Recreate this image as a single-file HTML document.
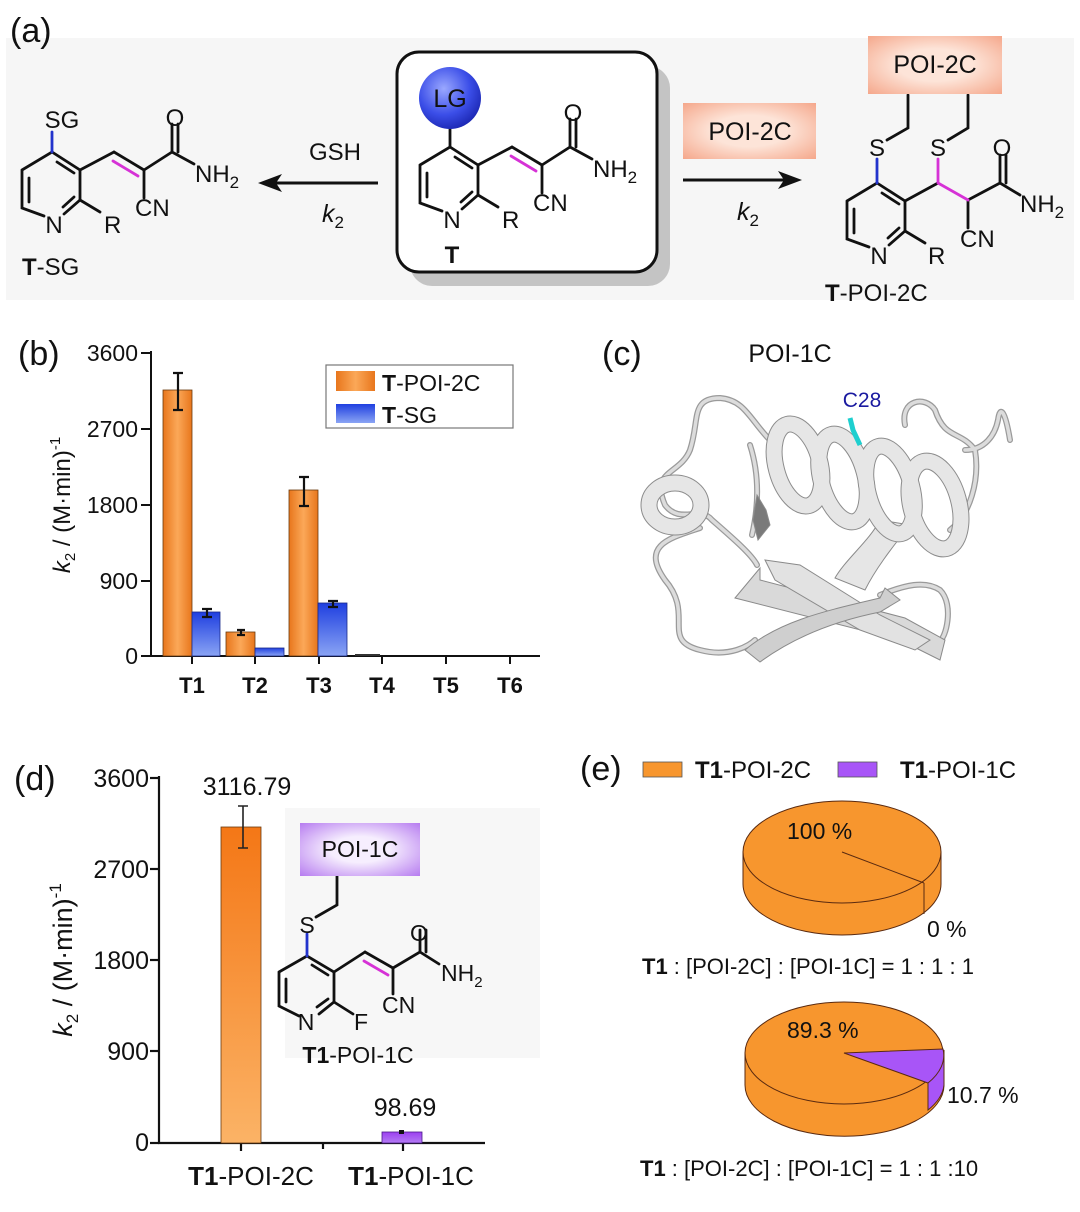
<!DOCTYPE html>
<html><head><meta charset="utf-8"><style>
html,body{margin:0;padding:0;background:#fff}
svg{display:block}
text{font-family:"Liberation Sans",Arial,sans-serif;fill:#111}
</style></head><body>
<svg width="1080" height="1212" viewBox="0 0 1080 1212" xmlns="http://www.w3.org/2000/svg">
<defs>
<radialGradient id="lg" cx="0.4" cy="0.35" r="0.7"><stop offset="0" stop-color="#9aa8ff"/><stop offset="0.6" stop-color="#3b4ee8"/><stop offset="1" stop-color="#1a25b0"/></radialGradient>
<radialGradient id="poi" cx="0.5" cy="0.5" r="0.7"><stop offset="0.4" stop-color="#fde4d8"/><stop offset="1" stop-color="#f5a88c"/></radialGradient>
<radialGradient id="poi1" cx="0.5" cy="0.5" r="0.7"><stop offset="0.35" stop-color="#f6eefe"/><stop offset="1" stop-color="#b77df0"/></radialGradient>
<linearGradient id="ob" x1="0" x2="1" y1="0" y2="0"><stop offset="0" stop-color="#e8761c"/><stop offset="0.5" stop-color="#fba858"/><stop offset="1" stop-color="#e8761c"/></linearGradient>
<linearGradient id="bb" x1="0" x2="0" y1="0" y2="1"><stop offset="0" stop-color="#1f3fe0"/><stop offset="1" stop-color="#8aa4f4"/></linearGradient>
<linearGradient id="od" x1="0" x2="0" y1="0" y2="1"><stop offset="0" stop-color="#f47716"/><stop offset="1" stop-color="#fbb366"/></linearGradient>
<linearGradient id="pd" x1="0" x2="0" y1="0" y2="1"><stop offset="0" stop-color="#9c3ff0"/><stop offset="1" stop-color="#b47bf4"/></linearGradient>
</defs>

<!-- panel a background -->
<rect x="6" y="38" width="1068" height="262" fill="#f6f6f6"/>
<text x="10" y="42" font-size="34">(a)</text>

<!-- center box -->
<rect x="410" y="66" width="260" height="220" rx="22" fill="#c4c4c4"/>
<rect x="397" y="52" width="260" height="220" rx="22" fill="#fff" stroke="#111" stroke-width="3"/>

<!-- panel d inset bg -->
<rect x="285" y="808" width="255" height="250" fill="#f7f7f7"/>

<g stroke="#111" stroke-width="2.8" fill="none" stroke-linecap="round">
<g transform="translate(450,147)">
<path d="M-30,18 L0,0 L28,18 L28,48 L12,62 M-8,64 L-30,56 L-30,18 M-23,26 L-23,50 M5,10 L22,21 M22,45 L11,55"/>
<path d="M28,18 L62,0 M92,18 L120,0 L120,-28 M126,0 L126,-28 M120,0 L142,12 M92,18 L92,46 M28,48 L48,60"/>
<path d="M62,0 L92,18" />
<path d="M61,9 L86,24" stroke="#d632d6"/>
<path d="M0,0 L0,-18"/>
</g>
<g transform="translate(52,152)">
<path d="M-30,18 L0,0 L28,18 L28,48 L12,62 M-8,64 L-30,56 L-30,18 M-23,26 L-23,50 M5,10 L22,21 M22,45 L11,55"/>
<path d="M28,18 L62,0 M92,18 L120,0 L120,-28 M126,0 L126,-28 M120,0 L142,12 M92,18 L92,46 M28,48 L48,60"/>
<path d="M62,0 L92,18"/>
<path d="M61,9 L86,24" stroke="#d632d6"/>
<path d="M0,0 L0,-20" stroke="#2233cc"/>
</g>
<g transform="translate(877,183)">
<path d="M-30,18 L0,0 L28,18 L28,48 L12,62 M-8,64 L-30,56 L-30,18 M-23,26 L-23,50 M5,10 L22,21 M22,45 L11,55"/>
<path d="M28,18 L61,0 M91,17 L123,0 L123,-28 M129,0 L129,-28 M123,0 L143,12 M91,17 L91,45 M28,48 L48,60"/>
<path d="M61,0 L91,17 M61,0 L61,-24" stroke="#d632d6"/>
<path d="M0,0 L0,-24" stroke="#2233cc"/>
<path d="M10,-43 L31,-55 L31,-88 M71,-43 L91,-55 L91,-88"/>
</g>
<g transform="translate(307,956)">
<path d="M-28,16 L0,0 L27,16 L27,46 L12,58 M-8,60 L-28,50 L-28,16 M-21,23 L-21,46 M5,9 L21,19 M21,43 L10,51"/>
<path d="M27,16 L58,-4 M86,12 L113,-4 L113,-26 M119,-4 L119,-26 M113,-4 L132,8 M86,12 L86,38 M27,46 L46,58"/>
<path d="M58,-4 L86,12"/>
<path d="M57,5 L81,19" stroke="#d632d6"/>
<path d="M0,0 L0,-22" stroke="#2233cc"/>
<path d="M9,-39 L30,-51 L30,-80"/>
</g>
</g>

<circle cx="450" cy="98" r="31" fill="url(#lg)"/>
<text x="450" y="107" font-size="25" text-anchor="middle">LG</text>
<g font-size="24">
<text x="573" y="121" text-anchor="middle">O</text>
<text x="593" y="177">NH<tspan font-size="17" dy="6">2</tspan></text>
<text x="533" y="211">CN</text>
<text x="452" y="228" text-anchor="middle">N</text>
<text x="502" y="228">R</text>
<text x="452" y="263" text-anchor="middle" font-weight="bold">T</text>

<text x="62" y="128" text-anchor="middle">SG</text>
<text x="175" y="126" text-anchor="middle">O</text>
<text x="195" y="182">NH<tspan font-size="17" dy="6">2</tspan></text>
<text x="135" y="216">CN</text>
<text x="54" y="233" text-anchor="middle">N</text>
<text x="104" y="233">R</text>
<text x="22" y="275"><tspan font-weight="bold">T</tspan>-SG</text>

<text x="877" y="156" text-anchor="middle">S</text>
<text x="938" y="156" text-anchor="middle">S</text>
<text x="1002" y="156" text-anchor="middle">O</text>
<text x="1020" y="212">NH<tspan font-size="17" dy="6">2</tspan></text>
<text x="960" y="247">CN</text>
<text x="879" y="264" text-anchor="middle">N</text>
<text x="928" y="264">R</text>
<text x="825" y="301"><tspan font-weight="bold">T</tspan>-POI-2C</text>
</g>

<line x1="378" y1="183" x2="275" y2="183" stroke="#111" stroke-width="3"/>
<path d="M258,183 L282,174 L276,183 L282,192 Z" fill="#111"/>
<text x="335" y="160" font-size="24" text-anchor="middle">GSH</text>
<text x="322" y="222" font-size="25" font-style="italic">k<tspan font-size="17" dy="6" font-style="normal">2</tspan></text>
<line x1="683" y1="180" x2="785" y2="180" stroke="#111" stroke-width="3"/>
<path d="M802,180 L778,171 L784,180 L778,189 Z" fill="#111"/>
<text x="737" y="220" font-size="25" font-style="italic">k<tspan font-size="17" dy="6" font-style="normal">2</tspan></text>
<rect x="683" y="103" width="133" height="56" fill="url(#poi)"/>
<text x="750" y="140" font-size="25" text-anchor="middle">POI-2C</text>
<rect x="868" y="36" width="134" height="58" fill="url(#poi)"/>
<text x="935" y="73" font-size="25" text-anchor="middle">POI-2C</text>

<!-- panel b -->
<text x="18" y="365" font-size="34">(b)</text>
<g font-size="23" text-anchor="end">
<text x="138" y="361">3600</text><text x="138" y="437">2700</text><text x="138" y="513">1800</text><text x="138" y="589">900</text><text x="138" y="664">0</text>
</g>
<g stroke="#111" stroke-width="2">
<line x1="151" y1="351" x2="151" y2="657"/><line x1="150" y1="656" x2="540" y2="656"/>
<line x1="141" y1="353" x2="151" y2="353"/><line x1="141" y1="429" x2="151" y2="429"/><line x1="141" y1="505" x2="151" y2="505"/><line x1="141" y1="581" x2="151" y2="581"/><line x1="141" y1="656" x2="151" y2="656"/>
<line x1="192" y1="656" x2="192" y2="664"/><line x1="255" y1="656" x2="255" y2="664"/><line x1="319" y1="656" x2="319" y2="664"/><line x1="382" y1="656" x2="382" y2="664"/><line x1="446" y1="656" x2="446" y2="664"/><line x1="510" y1="656" x2="510" y2="664"/>
</g>
<g stroke="#6a3a10" stroke-width="0.8">
<rect x="163" y="390" width="29" height="266" fill="url(#ob)"/>
<rect x="226" y="632" width="29" height="24" fill="url(#ob)"/>
<rect x="289" y="490" width="29" height="166" fill="url(#ob)"/>
</g>
<g stroke="#1a2a8a" stroke-width="0.8">
<rect x="192" y="612" width="28" height="44" fill="url(#bb)"/>
<rect x="255" y="648" width="29" height="8" fill="url(#bb)"/>
<rect x="318" y="603" width="29" height="53" fill="url(#bb)"/>
</g>
<rect x="355" y="654" width="25" height="2" fill="#333"/>
<g stroke="#111" stroke-width="2.2" fill="none">
<path d="M178,373 V410 M173,373 H183 M173,410 H183"/>
<path d="M207,609 V617 M202,609 H212 M202,617 H212"/>
<path d="M241,630 V635 M237,630 H245 M237,635 H245"/>
<path d="M304,477 V506 M299,477 H309 M299,506 H309"/>
<path d="M333,601 V607 M328,601 H338 M328,607 H338"/>
</g>
<g font-size="22" font-weight="bold" text-anchor="middle">
<text x="192" y="693">T1</text><text x="255" y="693">T2</text><text x="319" y="693">T3</text><text x="382" y="693">T4</text><text x="446" y="693">T5</text><text x="510" y="693">T6</text>
</g>
<text transform="translate(70,505) rotate(-90)" font-size="24" text-anchor="middle"><tspan font-style="italic">k</tspan><tspan font-size="15" dy="5">2</tspan><tspan dy="-5"> / (M·min)</tspan><tspan font-size="15" dy="-10">-1</tspan></text>
<rect x="326" y="365" width="187" height="63" fill="#fff" stroke="#777" stroke-width="1.2"/>
<rect x="336" y="371" width="39" height="20" fill="url(#ob)"/>
<rect x="336" y="404" width="39" height="19" fill="url(#bb)"/>
<text x="382" y="391" font-size="23"><tspan font-weight="bold">T</tspan>-POI-2C</text>
<text x="382" y="423" font-size="23"><tspan font-weight="bold">T</tspan>-SG</text>

<!-- panel c -->
<text x="602" y="365" font-size="34">(c)</text>
<text x="790" y="362" font-size="25" text-anchor="middle">POI-1C</text>
<text x="862" y="407" font-size="21" text-anchor="middle" style="fill:#1a1aa0">C28</text>
<g fill="none" stroke-linecap="round">
<g stroke="#9a9a9a" stroke-width="6">
<path id="lp" d="M770,440 C750,420 745,400 720,398 C690,398 700,420 690,450 C680,475 650,470 665,505 C680,525 700,505 712,520 C735,540 752,555 757,565 M750,445 C758,470 760,500 752,535 M700,528 C670,538 640,545 665,580 C695,615 660,640 700,650 C730,658 750,645 755,640 M905,425 C900,400 925,395 935,410 C945,440 960,430 975,450 C980,480 970,515 950,530 M965,450 C985,450 995,435 998,420 C1000,405 1005,410 1010,440 M880,595 C905,585 925,580 940,590 C955,605 945,640 940,640"/>
</g>
<g stroke="#dcdcdc" stroke-width="3.5">
<use href="#lp"/>
</g>
</g>
<g stroke="#8a8a8a" stroke-width="1">
<path d="M880,520 C870,540 845,560 835,578 L865,590 C875,570 890,550 910,525 Z" fill="#e6e6e6"/>
<path d="M735,598 L900,640 L940,660 L945,640 L905,618 L760,580 L760,568 Z" fill="#d9d9d9"/>
<path d="M765,560 L800,565 L880,615 L930,640 L915,650 L860,630 L775,580 Z" fill="#e2e2e2"/>
<path d="M745,650 C780,620 830,610 880,598 L885,588 L900,600 L880,612 C830,622 790,640 760,662 Z" fill="#cfcfcf"/>
<path d="M757,495 L766,510 L770,525 L758,540 L753,520 Z" fill="#7a7a7a"/>
</g>
<!-- helices -->
<g fill="none">
<g stroke="#8c8c8c" stroke-width="17">
<ellipse cx="675" cy="505" rx="26" ry="22"/>
<ellipse cx="798" cy="465" rx="22" ry="42" transform="rotate(-15 798 465)"/>
<ellipse cx="843" cy="478" rx="22" ry="45" transform="rotate(-15 843 478)"/>
<ellipse cx="890" cy="490" rx="22" ry="45" transform="rotate(-15 890 490)"/>
<ellipse cx="935" cy="505" rx="24" ry="45" transform="rotate(-15 935 505)"/>
</g>
<g stroke="#e6e6e6" stroke-width="15">
<ellipse cx="675" cy="505" rx="26" ry="22"/>
<ellipse cx="798" cy="465" rx="22" ry="42" transform="rotate(-15 798 465)"/>
<ellipse cx="843" cy="478" rx="22" ry="45" transform="rotate(-15 843 478)"/>
<ellipse cx="890" cy="490" rx="22" ry="45" transform="rotate(-15 890 490)"/>
<ellipse cx="935" cy="505" rx="24" ry="45" transform="rotate(-15 935 505)"/>
</g>
</g>
<path d="M850,418 L853,430 L860,445" stroke="#1ecfcf" stroke-width="5" fill="none"/>

<!-- panel d -->
<text x="14" y="790" font-size="34">(d)</text>
<g font-size="25" text-anchor="end">
<text x="149" y="787">3600</text><text x="149" y="878">2700</text><text x="149" y="969">1800</text><text x="149" y="1060">900</text><text x="149" y="1151">0</text>
</g>
<g stroke="#111" stroke-width="2.2">
<line x1="159" y1="776" x2="159" y2="1144"/><line x1="158" y1="1143" x2="485" y2="1143"/>
<line x1="150" y1="778" x2="159" y2="778"/><line x1="150" y1="869" x2="159" y2="869"/><line x1="150" y1="960" x2="159" y2="960"/><line x1="150" y1="1051" x2="159" y2="1051"/><line x1="150" y1="1143" x2="159" y2="1143"/>
<line x1="241" y1="1143" x2="241" y2="1151"/><line x1="323" y1="1143" x2="323" y2="1149"/><line x1="403" y1="1143" x2="403" y2="1151"/>
</g>
<rect x="221" y="827" width="40" height="316" fill="url(#od)" stroke="#6a3a10" stroke-width="0.8"/>
<rect x="382" y="1132" width="40" height="11" fill="url(#pd)" stroke="#4a1a8a" stroke-width="0.8"/>
<path d="M243,806 V848 M238,806 H248 M238,848 H248" stroke="#222" stroke-width="1.6" fill="none"/>
<rect x="399" y="1130" width="5" height="4" fill="#111"/>
<text x="247" y="795" font-size="25" text-anchor="middle">3116.79</text>
<text x="405" y="1116" font-size="25" text-anchor="middle">98.69</text>
<text x="251" y="1185" font-size="26" text-anchor="middle"><tspan font-weight="bold">T1</tspan>-POI-2C</text>
<text x="411" y="1185" font-size="26" text-anchor="middle"><tspan font-weight="bold">T1</tspan>-POI-1C</text>
<text transform="translate(72,960) rotate(-90)" font-size="27" text-anchor="middle"><tspan font-style="italic">k</tspan><tspan font-size="17" dy="6">2</tspan><tspan dy="-6"> / (M·min)</tspan><tspan font-size="17" dy="-11">-1</tspan></text>
<rect x="300" y="823" width="120" height="53" fill="url(#poi1)"/>
<text x="360" y="857" font-size="23" text-anchor="middle">POI-1C</text>
<g font-size="23">
<text x="307" y="933" text-anchor="middle">S</text>
<text x="419" y="941" text-anchor="middle">O</text>
<text x="441" y="981">NH<tspan font-size="15" dy="6">2</tspan></text>
<text x="382" y="1013">CN</text>
<text x="306" y="1030" text-anchor="middle">N</text>
<text x="354" y="1030">F</text>
<text x="358" y="1063" text-anchor="middle"><tspan font-weight="bold">T1</tspan>-POI-1C</text>
</g>

<!-- panel e -->
<text x="580" y="780" font-size="34">(e)</text>
<rect x="643" y="762" width="39" height="15" fill="#f7962e" stroke="#555" stroke-width="0.8"/>
<text x="695" y="778" font-size="24"><tspan font-weight="bold">T1</tspan>-POI-2C</text>
<rect x="838" y="762" width="39" height="15" fill="#a855f7" stroke="#555" stroke-width="0.8"/>
<text x="900" y="778" font-size="24"><tspan font-weight="bold">T1</tspan>-POI-1C</text>

<g stroke="#5a2a10" stroke-width="1" fill="#f7962e">
<path d="M743,852 V884 A99,51 0 0 0 941,884 V852 Z"/>
<ellipse cx="842" cy="852" rx="99" ry="51"/>
<path d="M842,852 L924,883 M924,883 V914" fill="none"/>
</g>
<text x="787" y="839" font-size="23">100 %</text>
<text x="927" y="937" font-size="23">0 %</text>
<text x="642" y="974" font-size="22"><tspan font-weight="bold">T1</tspan> : [POI-2C] : [POI-1C] = 1 : 1 : 1</text>

<g stroke="#5a2a10" stroke-width="1">
<path d="M745,1053 V1085 A99,51 0 0 0 944,1085 V1053 Z" fill="#f7962e"/>
<ellipse cx="844" cy="1053" rx="99" ry="51" fill="#f7962e"/>
<path d="M928,1083 V1110 A99,51 0 0 0 944,1085 V1050 L928,1083 Z" fill="#a855f7"/>
<path d="M844,1053 L943,1049 A99,51 0 0 1 928,1083 Z" fill="#a855f7"/>
</g>
<text x="787" y="1038" font-size="23">89.3 %</text>
<text x="947" y="1103" font-size="23">10.7 %</text>
<text x="640" y="1176" font-size="22"><tspan font-weight="bold">T1</tspan> : [POI-2C] : [POI-1C] = 1 : 1 :10</text>
</svg>
</body></html>
